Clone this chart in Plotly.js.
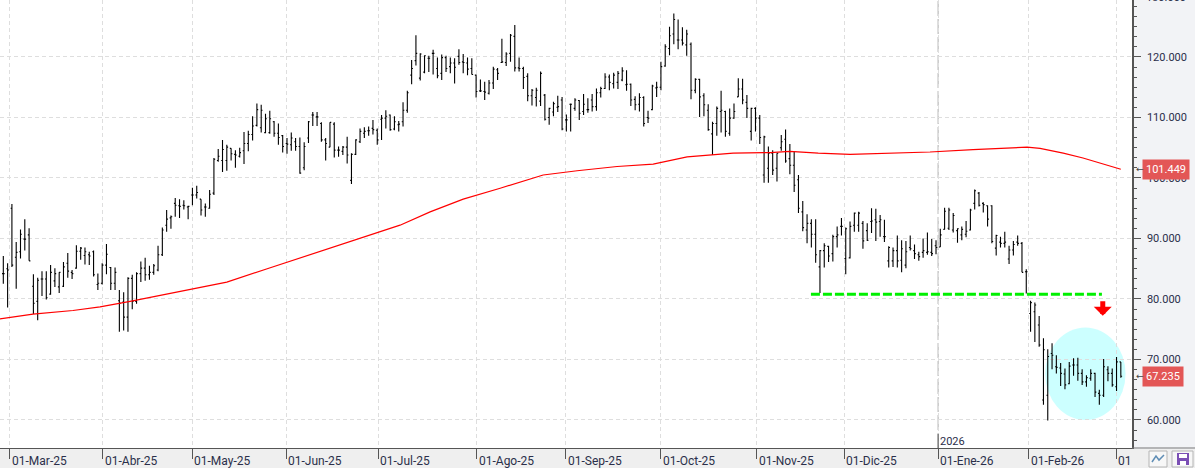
<!DOCTYPE html>
<html>
<head>
<meta charset="utf-8">
<script src="https://cdn.plot.ly/plotly-3.0.1.min.js"></script>
<style>
  html, body { margin: 0; padding: 0; background: #ffffff; }
  #plot { width: 1195px; height: 470px; }
</style>
</head>
<body>
<div id="plot"></div>
<script>
// daily bars
const openPrices = [
  84.2,85.0,95.0,86.9,87.8,89.9,90.6,82.1,79.6,83.3,83.3,80.8,83.0,82.0,82.1,85.9,84.4,85.1,87.9,87.2,
  87.3,87.8,82.4,82.6,85.6,85.2,82.6,79.7,79.5,77.0,83.4,79.6,84.2,85.1,84.0,84.4,84.8,87.3,92.2,93.4,
  95.8,95.4,95.5,95.2,97.2,97.2,96.5,95.2,95.0,97.5,102.9,102.9,102.9,104.9,103.9,103.6,104.5,105.7,107.2,108.7,
  108.3,107.5,107.5,109.3,107.4,107.0,105.7,105.5,106.0,105.2,101.7,106.6,110.4,110.1,109.0,106.3,105.1,108.9,104.6,104.4,
  105.1,99.6,103.9,106.0,107.4,107.8,108.2,107.9,109.7,109.9,110.4,108.1,108.8,109.3,111.2,117.0,119.4,116.5,117.5,119.8,
  120.6,118.1,117.3,119.9,118.4,119.0,120.1,119.2,119.0,118.1,117.0,114.4,114.3,114.0,115.7,117.9,119.1,119.1,120.6,123.4,
  118.2,118.1,116.8,113.6,113.3,112.7,113.7,110.0,110.9,111.7,112.9,109.6,112.2,111.5,112.8,111.0,111.3,112.9,111.8,114.1,
  114.8,116.7,115.6,115.8,116.2,115.4,115.5,113.0,112.2,113.3,110.0,111.3,114.9,115.0,118.5,121.4,123.8,122.8,122.8,122.0,
  122.1,114.5,116.3,113.6,111.2,107.3,109.0,111.0,111.0,107.4,109.9,113.4,114.7,112.5,107.7,111.5,109.9,100.5,101.6,104.1,
  101.6,105.0,106.4,103.2,102.1,99.7,94.4,91.4,92.5,90.7,85.3,88.0,88.7,87.5,90.3,92.0,86.7,86.8,92.2,92.2,
  92.5,91.3,92.8,93.1,92.8,90.3,86.3,86.3,88.0,86.4,85.6,88.5,88.0,87.3,87.7,87.7,87.7,88.8,88.6,91.5,
  91.7,91.4,91.3,90.6,90.7,91.4,95.8,97.5,95.8,95.4,95.4,88.4,89.4,89.2,86.6,88.1,89.4,89.2,84.5,77.6,
  77.9,75.7,63.3,64.1,71.0,68.8,68.6,67.6,66.0,69.1,69.1,67.7,66.3,66.9,67.7,64.4,64.1,68.3,67.7,65.5,
  69.6
];
const highPrices = [
  87.1,85.9,95.7,89.4,91.5,93.2,91.7,84.1,83.5,84.6,84.6,85.6,85.1,84.4,86.1,87.6,84.8,88.9,88.6,88.5,
  87.8,88.0,84.2,85.9,89.1,85.3,85.2,81.5,81.1,83.6,84.0,84.4,86.2,86.8,85.5,85.8,88.8,91.8,94.7,93.8,
  96.7,96.5,96.3,95.4,98.4,98.7,96.5,95.8,98.0,103.3,104.8,106.3,105.5,104.9,104.6,105.0,107.6,107.8,110.2,112.3,
  112.1,110.6,111.1,109.4,109.0,107.1,106.6,107.5,106.6,106.7,105.9,109.4,110.9,110.9,109.2,106.6,109.2,109.2,105.2,105.3,
  106.8,104.1,106.4,108.2,108.4,108.5,109.6,108.2,110.4,111.2,110.5,110.2,109.4,112.5,114.4,119.5,123.6,120.6,120.3,120.2,
  121.2,119.9,120.4,120.2,119.9,119.8,121.3,120.5,119.9,119.8,117.1,116.3,115.9,116.2,118.4,118.2,123.0,120.8,123.8,125.3,
  119.9,118.4,117.3,114.7,114.9,117.6,113.9,111.6,112.6,113.6,113.4,110.5,112.3,113.2,112.9,113.9,113.2,113.9,114.8,115.1,
  117.3,117.1,117.4,117.7,118.3,117.8,115.6,113.5,114.0,113.5,111.1,115.4,115.9,119.2,122.1,125.0,127.2,126.2,124.9,124.5,
  122.4,116.5,116.4,114.0,112.2,109.3,111.8,114.4,111.1,111.5,112.3,116.5,116.4,113.7,111.6,111.7,110.4,107.0,105.2,104.6,
  104.1,107.1,108.0,105.6,104.4,100.5,96.2,94.0,93.2,93.2,88.1,89.2,88.8,90.6,92.0,93.4,91.8,92.8,94.3,94.4,
  92.9,92.5,95.0,94.9,93.9,93.1,88.7,88.5,90.5,89.7,89.6,90.5,89.0,87.8,90.0,91.0,89.9,89.7,91.6,95.1,
  95.1,94.2,91.7,92.0,92.9,94.9,98.1,97.7,96.0,95.5,95.5,90.6,90.3,91.1,88.8,89.6,90.5,89.4,84.9,79.7,
  79.4,77.2,73.5,71.7,72.7,70.7,69.4,68.5,69.6,70.2,70.3,68.4,67.4,68.4,67.8,65.0,70.1,68.9,68.5,70.4,
  69.6
];
const lowPrices = [
  82.5,78.6,85.3,81.7,86.7,88.0,86.3,77.5,76.5,80.5,79.9,80.7,82.0,81.0,82.0,83.5,83.3,85.0,86.5,85.7,
  85.6,83.7,81.5,82.4,84.1,81.5,81.5,74.6,74.8,74.6,78.3,79.2,82.8,83.0,83.2,84.0,84.6,87.1,91.1,91.6,
  93.6,93.4,94.8,93.2,95.5,96.6,93.8,93.6,94.9,97.2,102.7,101.0,101.2,102.9,101.7,103.4,102.3,104.4,106.2,108.5,
  107.5,107.4,107.3,106.8,105.5,104.2,104.0,104.5,104.5,100.7,101.3,105.8,108.6,108.6,106.0,102.9,105.1,103.4,103.5,103.8,
  102.4,99.0,103.8,105.8,106.6,107.0,107.2,105.5,106.3,108.2,107.8,107.9,107.7,108.5,110.8,115.5,118.6,116.1,117.3,117.5,
  117.1,116.5,116.2,117.5,117.3,115.6,118.7,117.3,117.0,117.1,113.3,114.2,112.9,113.8,114.7,116.2,119.0,118.5,119.2,117.6,
  117.6,114.7,112.7,112.0,111.8,111.9,109.5,108.8,110.2,110.9,107.9,107.7,107.7,111.1,109.6,110.4,110.8,111.0,111.1,113.3,
  114.7,114.5,114.8,114.7,116.0,114.4,111.9,111.2,111.0,108.5,109.1,111.2,113.4,114.5,118.4,120.3,122.1,121.3,121.9,120.2,
  113.0,114.0,110.1,110.2,107.8,103.8,107.0,107.5,106.8,107.0,109.8,113.4,112.2,109.9,106.2,107.7,105.6,99.2,99.2,100.5,
  99.4,104.5,102.5,100.6,97.7,94.2,91.2,89.2,88.5,86.0,81.0,85.2,86.1,86.2,88.5,90.5,84.1,86.7,91.1,91.1,
  88.3,89.6,90.9,89.6,90.3,89.4,85.2,85.3,85.2,84.4,85.1,88.0,86.6,86.3,86.8,87.3,87.1,87.4,88.6,91.5,
  91.4,91.0,89.3,89.7,90.2,91.3,94.8,95.3,94.3,92.0,89.2,87.2,88.5,88.5,85.8,87.2,88.8,84.4,80.9,74.6,
  72.9,72.1,62.5,59.9,68.4,67.7,65.6,65.1,65.9,67.3,66.5,65.8,65.5,66.5,63.8,62.5,63.8,66.4,65.5,64.8,
  67.0
];
const closePrices = [
  84.2,84.8,85.6,87.7,90.7,89.9,86.3,79.3,83.1,83.3,80.2,84.4,84.2,84.4,85.3,84.6,84.2,87.9,88.4,87.8,
  87.1,84.0,82.6,85.6,87.4,82.6,84.4,79.3,77.0,83.4,79.6,84.2,85.1,84.0,84.4,85.5,87.3,91.4,93.2,93.6,
  95.5,95.3,95.4,95.3,97.2,97.6,94.7,95.2,97.3,103.1,103.6,104.7,105.1,104.0,103.8,104.2,105.7,107.2,108.6,111.3,
  111.2,109.8,109.8,107.4,106.7,105.2,105.6,106.6,105.2,100.8,105.2,109.3,110.4,110.1,106.3,105.7,109.2,104.6,104.6,105.1,
  103.8,103.9,106.3,107.7,107.7,107.8,108.0,106.3,109.9,110.2,108.0,109.3,108.9,111.2,114.1,118.1,120.6,120.5,120.2,119.8,
  120.6,116.9,119.9,118.1,119.0,118.3,119.1,119.1,118.0,117.1,114.3,114.4,114.2,115.7,118.0,117.3,119.2,120.5,123.6,118.2,
  118.1,116.6,113.6,114.5,114.5,117.3,109.7,111.5,112.3,111.8,108.1,109.6,112.2,112.9,110.7,112.2,111.3,111.8,114.1,114.8,
  116.7,115.8,117.0,117.3,117.7,115.5,112.9,112.1,113.3,109.0,109.9,115.2,115.0,118.4,121.7,123.5,126.2,122.8,122.3,123.8,
  114.5,116.3,113.4,112.1,108.0,109.0,111.5,111.2,107.7,109.9,111.0,114.7,112.9,111.5,111.5,109.9,106.7,106.8,104.1,101.3,
  104.1,106.0,102.8,102.1,98.8,95.0,91.8,92.5,90.7,87.3,88.0,88.8,87.1,90.3,90.6,92.0,91.6,92.0,94.2,94.2,
  89.6,89.7,92.9,92.7,93.1,90.3,88.5,88.0,86.3,88.3,87.8,88.3,87.5,87.0,88.0,87.8,87.5,88.5,90.6,94.5,
  94.7,93.8,91.6,91.5,91.2,94.7,97.9,95.5,95.6,93.2,89.5,90.5,89.2,89.4,88.1,89.0,89.2,84.4,84.5,79.4,
  79.0,72.4,71.6,70.5,70.7,68.7,67.7,65.8,68.9,69.1,67.7,66.3,67.0,67.7,64.6,64.1,68.8,67.7,65.8,69.6,
  67.235
];

// 200-day average, sampled along the red line
const avgBars = [-0.8,6.9,16.2,22.5,29.5,38.1,52,61.4,69,76.7,84.6,92.3,99.3,107,115.6,125.6,133.5,142.8,151.2,159.1,169.8,178.4,183,189.6,197,206.3,215.6,225.6,238.2,241.2,243.5,246.6,251.2,255.2,260];
const avgValues = [76.7,77.5,78.1,78.7,79.6,80.8,82.8,85,86.8,88.6,90.5,92.2,94.4,96.5,98.3,100.5,101.2,101.9,102.3,103.5,104.1,104.2,104.4,104.1,103.9,104.1,104.3,104.7,105.1,104.9,104.6,104.1,103.3,102.4,101.449];

const monthBars = [1.44,23.08,44,65.8,87.2,110.2,130.9,153,175.3,195.6,217.5,238.6,258.9];
const monthLabels = ['01-Mar-25','01-Abr-25','01-May-25','01-Jun-25','01-Jul-25','01-Ago-25','01-Sep-25','01-Oct-25','01-Nov-25','01-Dic-25','01-Ene-26','01-Feb-26','01'];
const priceTicks = [60,70,80,90,100,110,120];

const supportBars = [187.9,255.6];
const supportValues = [80.8,80.8];
const yearBar = 217.5;
const lastAvg = 101.449;
const lastPrice = 67.235;

const W = 1195, H = 470, plotW = 1132, plotH = 448;
const textColor = '#2b2f4a';
const fontFam = 'Roboto, "Liberation Sans", sans-serif';

// pixel position -> paper fraction, for the window furniture around the plot
function fx(px) { return px / plotW; }
function fy(py) { return 1 - py / plotH; }
function box(x0, y0, x1, y1, fill, lineColor) {
  return {
    type: 'rect', xref: 'paper', yref: 'paper', layer: 'above',
    x0: fx(x0), x1: fx(x1), y0: fy(y0), y1: fy(y1),
    fillcolor: fill, line: { color: lineColor || fill, width: lineColor ? 1 : 0 }
  };
}

const barTrace = {
  type: 'ohlc',
  x: openPrices.map((v, i) => i),
  open: openPrices, high: highPrices, low: lowPrices, close: closePrices,
  increasing: { line: { color: '#000000', width: 1.1 } },
  decreasing: { line: { color: '#000000', width: 1.1 } },
  tickwidth: 0.3,
  hoverinfo: 'skip'
};
const avgTrace = {
  type: 'scatter', mode: 'lines', x: avgBars, y: avgValues,
  line: { color: '#ff0000', width: 1.2 }, hoverinfo: 'skip'
};
const supportTrace = {
  type: 'scatter', mode: 'lines', x: supportBars, y: supportValues,
  line: { color: '#00f000', width: 3, dash: '9px,3px' }, hoverinfo: 'skip'
};

const annotations = [];
monthBars.forEach((b, i) => {
  annotations.push({
    x: b, y: 0, xref: 'x', yref: 'paper', text: monthLabels[i], showarrow: false,
    xanchor: 'left', yanchor: 'top', xshift: 0, yshift: -4,
    font: { family: fontFam, size: 12, color: textColor }
  });
});
annotations.push({
  x: yearBar, y: fy(441), xref: 'x', yref: 'paper', text: '2026', showarrow: false,
  xanchor: 'left', yanchor: 'middle', xshift: 0,
  font: { family: fontFam, size: 11, color: textColor }
});
// top tick label, cut by the window edge in the original
annotations.push({
  x: fx(1144), y: fy(-2), xref: 'paper', yref: 'paper', text: '130.000', showarrow: false,
  xanchor: 'left', yanchor: 'middle', font: { family: fontFam, size: 11, color: textColor }
});
[[lastAvg, '101.449'], [lastPrice, '67.235']].forEach(p => {
  annotations.push({
    x: fx(1142), y: p[0], xref: 'paper', yref: 'y', text: p[1], showarrow: false,
    xanchor: 'left', yanchor: 'middle', bgcolor: '#e35656', borderpad: 3,
    font: { family: fontFam, size: 11, color: '#ffffff' }
  });
  annotations.push({
    x: fx(1134), y: p[0], xref: 'paper', yref: 'y', text: '←', showarrow: false,
    xanchor: 'left', yanchor: 'middle', font: { family: '"DejaVu Sans"', size: 9, color: '#444444' }
  });
});
// red arrow under the support line
annotations.push({
  x: 255.8, y: 77.24, xref: 'x', yref: 'y', ax: 0, ay: -16, axref: 'pixel', ayref: 'pixel',
  text: '', showarrow: true, arrowhead: 1, arrowsize: 0.6, arrowwidth: 5, arrowcolor: '#ff0000'
});

const shapes = [
  // blue circle behind the last bars
  { type: 'circle', xref: 'x', yref: 'y', layer: 'below', x0: 242.4, x1: 261.1, y0: 60, y1: 75.3,
    fillcolor: 'rgba(0,255,255,0.2)', line: { width: 0 } },
  // year separator
  { type: 'line', xref: 'x', yref: 'paper', layer: 'below', x0: yearBar, x1: yearBar, y0: 0, y1: 1,
    line: { color: '#c8c8c8', width: 1.5, dash: '15px,3px' } },
  { type: 'line', xref: 'x', yref: 'paper', layer: 'above', x0: yearBar, x1: yearBar, y0: 0, y1: fy(434),
    line: { color: '#555555', width: 1 } },
  // bottom strip and buttons
  Object.assign(box(0, 449, W, 468, '#efefef'), { layer: 'below' }),
  Object.assign(box(0, 468, W, H, '#ffffff'), { layer: 'below' }),
  box(plotW, 447.6, W, 448.4, '#777777'),
  box(1149, 451, 1167, 467, '#f7f7f7', '#b5b5b5'),
  box(1172, 451, 1193, 467, '#f7f7f7', '#b5b5b5'),
  { type: 'path', xref: 'paper', yref: 'paper', layer: 'above',
    path: `M ${fx(1152)} ${fy(462)} L ${fx(1156)} ${fy(456)} L ${fx(1159)} ${fy(460)} L ${fx(1164)} ${fy(455)}`,
    line: { color: '#5f8db5', width: 1.5 } },
  box(1177, 453, 1189, 465, '#7b4fb5'),
  box(1179, 454, 1187, 458, '#ffffff'),
  box(1180, 461, 1186, 465, '#ffffff')
];

const layout = {
  width: W, height: H,
  margin: { l: 0, r: W - plotW, t: 0, b: H - plotH, pad: 0 },
  paper_bgcolor: '#f2f3f6',
  plot_bgcolor: '#ffffff',
  showlegend: false,
  hovermode: false,
  font: { family: fontFam, color: textColor },
  xaxis: {
    type: 'linear',
    range: [-0.77, 262.6],
    tickmode: 'array', tickvals: monthBars, showticklabels: false,
    ticks: 'outside', ticklen: 10, tickcolor: '#555555', tickwidth: 1,
    showgrid: true, gridcolor: '#dedede', griddash: '4px,3px', gridwidth: 1,
    showline: true, linecolor: '#555555', linewidth: 1,
    zeroline: false, rangeslider: { visible: false }
  },
  yaxis: {
    side: 'right',
    range: [55.37, 129.42],
    tickmode: 'array', tickvals: priceTicks, tickformat: '.3f',
    ticks: 'outside', ticklen: 7, tickcolor: '#555555', tickwidth: 1,
    ticklabelstandoff: 4,
    tickfont: { family: fontFam, size: 11, color: textColor },
    minor: { tickmode: 'linear', tick0: 60, dtick: 10 / 6, ticks: 'outside', ticklen: 3, tickcolor: '#555555', showgrid: false },
    showgrid: true, gridcolor: '#dedede', griddash: '4px,3px', gridwidth: 1,
    showline: true, linecolor: '#555555', linewidth: 1.5,
    zeroline: false
  },
  annotations: annotations,
  shapes: shapes
};

Plotly.newPlot('plot', [barTrace, avgTrace, supportTrace], layout, { displayModeBar: false, responsive: false });
</script>
</body>
</html>
